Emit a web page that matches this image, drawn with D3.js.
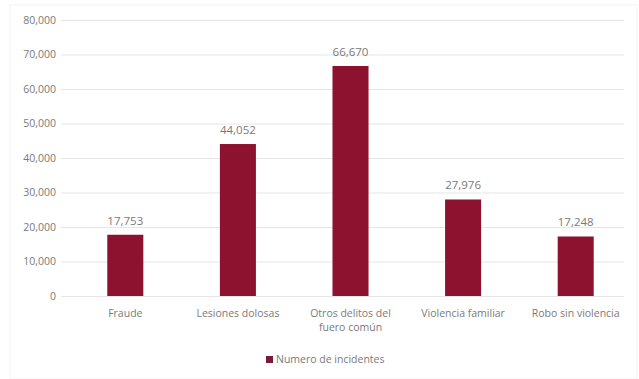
<!DOCTYPE html>
<html>
<head>
<meta charset="utf-8">
<script src="https://cdn.jsdelivr.net/npm/d3@7"></script>
<style>
  body { margin: 0; background: #fff; }
  text { font-family: "Open Sans", "Liberation Sans", sans-serif; fill: #7a7a7a; }
</style>
</head>
<body>
<div id="chart"></div>
<script>
// data
var categories = ["Fraude", "Lesiones dolosas", "Otros delitos del fuero común", "Violencia familiar", "Robo sin violencia"];
var values = [17753, 44052, 66670, 27976, 17248];
var yTicks = [0, 10000, 20000, 30000, 40000, 50000, 60000, 70000, 80000];
var seriesName = "Numero de incidentes";

var svgWidth = 639;
var svgHeight = 379;

var margin = { top: 20, right: 7, bottom: 83, left: 69 };
var width = svgWidth - margin.left - margin.right;
var height = svgHeight - margin.top - margin.bottom;

var svg = d3.select("#chart")
    .append("svg")
    .attr("width", svgWidth)
    .attr("height", svgHeight);

// faint frame like the screenshot
svg.append("rect")
    .attr("x", 10).attr("y", 5)
    .attr("width", svgWidth - 12).attr("height", svgHeight - 5)
    .attr("fill", "none")
    .attr("stroke", "#f3f3f3");

var chartGroup = svg.append("g")
    .attr("transform", `translate(${margin.left}, ${margin.top})`);

var x = d3.scaleBand()
    .domain(categories)
    .range([0, width])
    .paddingInner(0.68)
    .paddingOuter(0.34);

var y = d3.scaleLinear()
    .domain([0, 80000])
    .range([height, 0]);

// gridlines + y labels
var yAxis = chartGroup.append("g")
    .call(d3.axisLeft(y).tickValues(yTicks).tickFormat(d3.format(",")).tickSize(-width + 8).tickPadding(13));
yAxis.select(".domain").remove();
yAxis.selectAll(".tick line").attr("stroke", "#e6e6e6").attr("x1", -8);
yAxis.selectAll(".tick text").attr("font-size", 10.5).attr("fill", "#888");

// bars
chartGroup.selectAll("rect.bar")
    .data(values)
    .enter()
    .append("rect")
    .attr("class", "bar")
    .attr("x", (d, i) => x(categories[i]))
    .attr("y", d => y(d))
    .attr("width", x.bandwidth())
    .attr("height", d => height - y(d))
    .attr("fill", "#8d1230");

// value labels
chartGroup.selectAll("text.val")
    .data(values)
    .enter()
    .append("text")
    .attr("class", "val")
    .attr("x", (d, i) => x(categories[i]) + x.bandwidth() / 2)
    .attr("y", d => y(d) - 10)
    .attr("text-anchor", "middle")
    .attr("font-size", 11.5)
    .text(d => d3.format(",")(d));

// category labels, wrapped
var xAxis = chartGroup.append("g")
    .attr("transform", `translate(0, ${height})`)
    .call(d3.axisBottom(x).tickSize(0).tickPadding(14));
xAxis.select(".domain").remove();
xAxis.selectAll(".tick text")
    .attr("font-size", 10.5)
    .each(function(d) {
        var t = d3.select(this);
        if (d === "Otros delitos del fuero común") {
            t.text(null);
            t.append("tspan").attr("x", 0).attr("dy", "0.71em").text("Otros delitos del");
            t.append("tspan").attr("x", 0).attr("dy", "1.3em").text("fuero común");
            t.attr("dy", null);
        }
    });

// legend
var legend = svg.append("g")
    .attr("transform", "translate(266, 356)");
legend.append("rect")
    .attr("width", 7).attr("height", 7)
    .attr("fill", "#7a1a3a");
legend.append("text")
    .attr("x", 10)
    .attr("y", 4)
    .attr("dy", "0.32em")
    .attr("font-size", 10.5)
    .text(seriesName);
</script>
</body>
</html>
